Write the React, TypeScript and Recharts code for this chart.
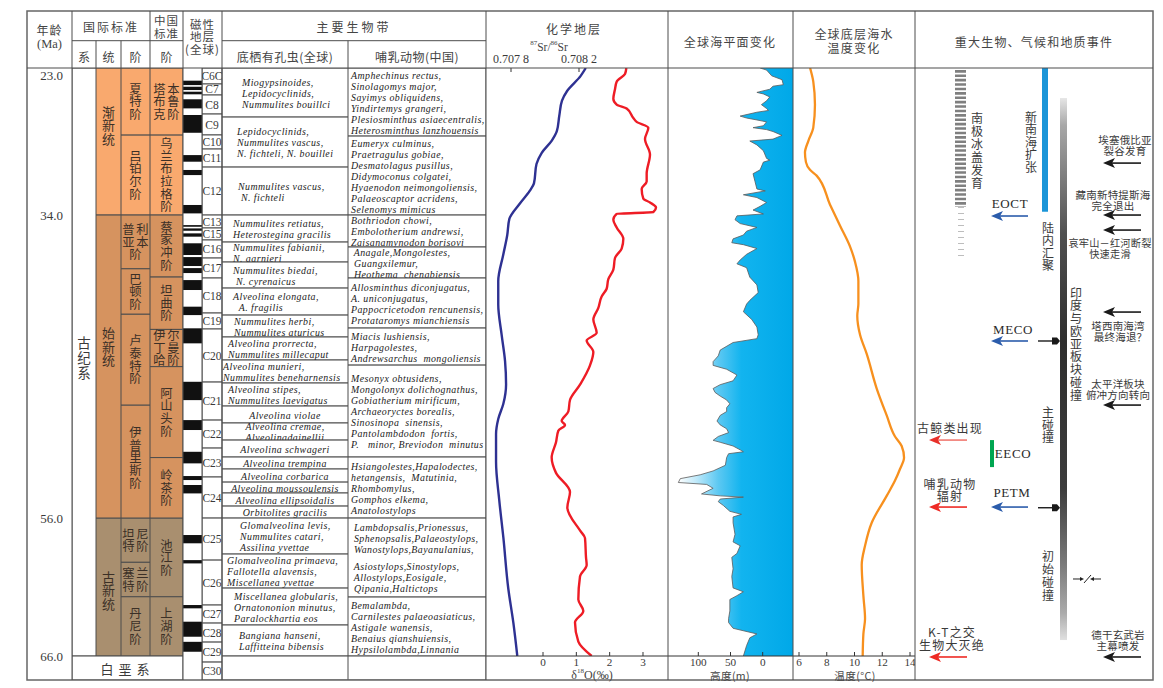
import React from 'react';
import { ComposedChart, Line, Area, XAxis, YAxis, ReferenceArea, Scatter } from 'recharts';

const F_CJK = '"Noto Sans CJK SC", "Noto Sans", sans-serif';
const F_SERIF = '"Liberation Serif", "DejaVu Serif", serif';
const INK = '#3a3a3a';
const LINE = '#4d4d4d';

const AGE_TOP = 23.33;
const AGE_BASE = 66;
const AGE_END = 67.74;
const PX_PER_MA = 13.78;
const BODY_TOP = 68;
const BODY_H = Math.round((AGE_END - AGE_TOP) * PX_PER_MA);
const PLOT_H = Math.round((AGE_BASE - AGE_TOP) * PX_PER_MA);

const COL = { age: 27, sys: 72, ser: 96, stg: 121, cst: 150, pol: 183, chr: 202, fora: 222, mam: 348, chem: 486, sea: 668, tmp: 793, evt: 915, end: 1153 };

const OLI = '#F9A96E';
const EOC = '#D6935F';
const PAL = '#A98F6F';

// ---------- ticks ----------
const AGE_TICKS = [23, 34, 56, 66];
const SR_TICKS = [0.7078, 0.7082];
const O18_TICKS = [0, 1, 2, 3];
const SEA_TICKS = [100, 50, 0];
const TEMP_TICKS = [6, 8, 10, 12, 14];

// ---------- stratigraphy ----------
const systemCells = [{ start: AGE_TOP, end: AGE_BASE, lines: ['古', '纪', '系'], dy: -4 }];
const cretCells = [{ start: AGE_BASE, end: AGE_END, lines: ['白垩系'] }];
const seriesCells = [
  { start: AGE_TOP, end: 34, lines: ['渐', '新', '统'], fill: OLI, dy: -16 },
  { start: 34, end: 56, lines: ['始', '新', '统'], fill: EOC, dy: -20 },
  { start: 56, end: 66, lines: ['古', '新', '统'], fill: PAL, dy: 3 },
];
const intlStages = [
  { start: AGE_TOP, end: 28.2, lines: ['夏', '特', '阶'], fill: OLI },
  { start: 28.2, end: 34, lines: ['吕', '铂', '尔', '阶'], fill: OLI },
  { start: 34, end: 37.9, lines: ['普利', '亚本', '阶'], fill: EOC },
  { start: 37.9, end: 41.2, lines: ['巴', '顿', '阶'], fill: EOC },
  { start: 41.2, end: 47.8, lines: ['卢', '泰', '特', '阶'], fill: EOC },
  { start: 47.8, end: 56, lines: ['伊', '普', '里', '斯', '阶'], fill: EOC, dy: -4 },
  { start: 56, end: 59.2, lines: ['坦尼', '特阶'], fill: PAL },
  { start: 59.2, end: 61.7, lines: ['塞兰', '特阶'], fill: PAL },
  { start: 61.7, end: 66, lines: ['丹', '尼', '阶'], fill: PAL },
];
const chinaStages = [
  { start: AGE_TOP, end: 28.2, lines: ['塔本', '布鲁', '克阶'], fill: OLI },
  { start: 28.2, end: 34, lines: ['乌', '兰', '布', '拉', '格', '阶'], fill: OLI },
  { start: 34, end: 38.5, lines: ['蔡', '家', '冲', '阶'], fill: EOC },
  { start: 38.5, end: 42.3, lines: ['坦', '曲', '阶'], fill: EOC },
  { start: 42.3, end: 45.0, lines: ['伊尔', '丁曼', '哈阶'], fill: EOC },
  { start: 45.0, end: 51.6, lines: ['阿', '山', '头', '阶'], fill: EOC },
  { start: 51.6, end: 56, lines: ['岭', '茶', '阶'], fill: EOC },
  { start: 56, end: 61.7, lines: ['池', '江', '阶'], fill: PAL },
  { start: 61.7, end: 66, lines: ['上', '湖', '阶'], fill: PAL },
];
const polarityNormal = [
  [24.25, 24.57], [24.69, 24.93], [25.05, 25.24], [25.6, 26.26], [26.74, 28.03], [29.65, 30.13],
  [30.73, 31.1], [33.27, 33.88], [34.73, 34.85], [34.97, 35.14], [35.33, 35.57], [36.05, 36.9],
  [37.05, 37.7], [37.85, 38.21], [38.72, 39.44], [40.65, 41.26], [42.22, 43.31], [46.1, 47.43],
  [48.88, 49.6], [51.18, 52.02], [52.94, 53.23], [53.59, 54.2], [57.22, 57.82], [59.04, 59.28],
  [62.3, 62.54], [63.51, 64.6], [64.97, 65.69],
];
const chronBounds = [AGE_TOP, 24.49, 25.29, 26.67, 28.19, 29.21, 30.52, 34.0, 34.94, 35.81, 37.12, 38.57, 41.11, 42.27, 46.12, 48.88, 50.91, 53.01, 55.99, 59.04, 62.30, 63.61, 64.99, 66.44, AGE_END];
const chronNames = ['C6C', 'C7', 'C8', 'C9', 'C10', 'C11', 'C12', 'C13', 'C15', 'C16', 'C17', 'C18', 'C19', 'C20', 'C21', 'C22', 'C23', 'C24', 'C25', 'C26', 'C27', 'C28', 'C29', 'C30'];

const foramCells = [
  { start: AGE_TOP, end: 26.89, ix: 20, lines: ['Miogypsinoides,', 'Lepidocyclinids,', 'Nummulites bouillci'] },
  { start: 26.89, end: 30.52, ix: 15, lines: ['Lepidocyclinids,', 'Nummulites vascus,', 'N. fichteli, N. bouillei'] },
  { start: 30.52, end: 34.0, ix: 16, lines: ['Nummulites vascus,', ' N. fichteli'] },
  { start: 34.0, end: 35.96, ix: 11, lines: ['Nummulites retiatus,', 'Heterostegina gracilis'] },
  { start: 35.96, end: 37.41, ix: 11, lines: ['Nummulites fabianii,', 'N. garnieri'] },
  { start: 37.41, end: 39.30, ix: 11, lines: ['Nummulites biedai,', ' N. cyrenaicus'] },
  { start: 39.30, end: 41.26, ix: 11, lines: ['Alveolina elongata,', '  A. fragilis'] },
  { start: 41.26, end: 42.85, ix: 12, lines: ['Nummulites herbi,', 'Nummulites aturicus'] },
  { start: 42.85, end: 44.52, ix: 6, lines: ['Alveolina prorrecta,', 'Nummulites millecaput'] },
  { start: 44.52, end: 46.19, ix: 1, lines: ['Alveolina munieri,', 'Nummulites beneharnensis'] },
  { start: 46.19, end: 47.86, ix: 6, lines: ['Alveolina stipes,', 'Nummulites laevigatus'] },
  { start: 47.86, end: 49.09, lines: ['Alveolina violae'] },
  { start: 49.09, end: 50.33, lines: ['Alveolina cremae,', 'Alveolinadainellii'] },
  { start: 50.33, end: 51.56, lines: ['Alveolina schwageri'] },
  { start: 51.56, end: 52.43, lines: ['Alveolina trempina'] },
  { start: 52.43, end: 53.38, lines: ['Alveolina corbarica'] },
  { start: 53.38, end: 54.17, lines: ['Alveolina moussoulensis'] },
  { start: 54.17, end: 55.12, lines: ['Alveolina ellipsoidalis'] },
  { start: 55.12, end: 55.99, lines: ['Orbitolites gracilis'] },
  { start: 55.99, end: 58.60, ix: 18, lines: ['Glomalveolina levis,', 'Nummulites catari,', 'Assilina yvettae'] },
  { start: 58.60, end: 61.07, ix: 5, lines: ['Glomalveolina primaeva,', 'Fallotella alavensis,', 'Miscellanea yvettae'] },
  { start: 61.07, end: 63.75, ix: 12, lines: ['Miscellanea globularis,', 'Ornatononion minutus,', 'Paralockhartia eos'] },
  { start: 63.75, end: 66.0, ix: 17, lines: ['Bangiana hanseni,', 'Laffitteina bibensis'] },
  { start: 66.0, end: AGE_END, lines: [] },
];
const mammalCells = [
  { start: AGE_TOP, end: 28.27, lines: ['Amphechinus rectus,', 'Sinolagomys major,', 'Sayimys obliquidens,', 'Yindirtemys grangeri,', 'Plesiosminthus asiaecentralis,', 'Heterosminthus lanzhouensis'] },
  { start: 28.27, end: 34.0, lines: ['Eumeryx culminus,', 'Praetragulus gobiae,', 'Desmatolagus pusillus,', 'Didymoconus colgatei,', 'Hyaenodon neimongoliensis,', 'Palaeoscaptor acridens,', 'Selenomys mimicus'] },
  { start: 34.0, end: 36.32, lines: ['Bothriodon chowi,', 'Embolotherium andrewsi,', 'Zaisanamynodon borisovi'] },
  { start: 36.32, end: 38.57, lines: [' Anagale,Mongolestes,', ' Guangxilemur,', ' Heothema  chengbiensis'] },
  { start: 38.57, end: 42.2, lines: ['Allosminthus diconjugatus,', 'A. uniconjugatus,', 'Pappocricetodon rencunensis,', 'Protataromys mianchiensis'] },
  { start: 42.2, end: 44.89, lines: ['Miacis lushiensis,', 'Harpagolestes,', 'Andrewsarchus  mongoliensis'] },
  { start: 44.89, end: 51.56, lines: ['Mesonyx obtusidens,', 'Mongolonyx dolichognathus,', 'Gobiatherium mirificum,', 'Archaeoryctes borealis,', 'Sinosinopa  sinensis,', 'Pantolambdodon  fortis,', 'P.   minor, Breviodon  minutus'] },
  { start: 51.56, end: 55.99, lines: ['Hsiangolestes,Hapalodectes,', 'hetangensis,  Matutinia,', 'Rhombomylus,', 'Gomphos elkema,', 'Anatolostylops'] },
  { start: 55.99, end: 61.72, lines: [' Lambdopsalis,Prionessus,', ' Sphenopsalis,Palaeostylops,', ' Wanostylops,Bayanulanius,', '', ' Asiostylops,Sinostylops,', ' Allostylops,Eosigale,', ' Qipania,Haltictops'] },
  { start: 61.72, end: 66.0, lines: ['Bemalambda,', 'Carnilestes palaeoasiaticus,', 'Astigale wanensis,', 'Benaius qianshuiensis,', 'Hypsilolambda,Linnania'] },
  { start: 66.0, end: AGE_END, lines: [] },
];

// ---------- curves ----------
const srData = [
  { age: 23.33, v: 0.70824 }, { age: 23.9, v: 0.70821 }, { age: 25.0, v: 0.70813 }, { age: 25.7, v: 0.7081 },
  { age: 26.8, v: 0.708084 }, { age: 27.9, v: 0.70807 }, { age: 28.6, v: 0.70804 }, { age: 29.5, v: 0.70798 },
  { age: 30.3, v: 0.70795 }, { age: 31.7, v: 0.707935 }, { age: 32.25, v: 0.70791 }, { age: 33.2, v: 0.70785 },
  { age: 34.3, v: 0.70779 }, { age: 35.45, v: 0.707778 }, { age: 36.85, v: 0.707755 }, { age: 38.8, v: 0.707725 },
  { age: 40.5, v: 0.707725 }, { age: 42.7, v: 0.707745 }, { age: 44.6, v: 0.707765 }, { age: 46.3, v: 0.707771 },
  { age: 47.7, v: 0.707755 }, { age: 48.8, v: 0.707725 }, { age: 49.9, v: 0.707712 }, { age: 51.9, v: 0.707712 },
  { age: 54.7, v: 0.707731 }, { age: 57.4, v: 0.707755 }, { age: 61.1, v: 0.707784 }, { age: 63.6, v: 0.707814 },
  { age: 66.0, v: 0.707837 },
];
const d18oData = [
  { age: 23.33, v: 2.5 }, { age: 23.76, v: 2.46 }, { age: 24.32, v: 2.21 }, { age: 24.87, v: 2.16 },
  { age: 25.57, v: 2.11 }, { age: 25.99, v: 2.21 }, { age: 26.27, v: 2.51 }, { age: 26.96, v: 2.71 },
  { age: 27.24, v: 2.81 }, { age: 27.66, v: 3.16 }, { age: 28.49, v: 3.06 }, { age: 29.61, v: 3.21 },
  { age: 31.0, v: 3.11 }, { age: 31.56, v: 3.11 }, { age: 32.11, v: 2.96 }, { age: 32.81, v: 3.01 },
  { age: 33.09, v: 3.21 }, { age: 33.45, v: 3.39 }, { age: 33.78, v: 3.31 }, { age: 33.92, v: 2.21 },
  { age: 34.34, v: 2.11 }, { age: 34.9, v: 2.21 }, { age: 35.73, v: 2.41 }, { age: 36.43, v: 2.36 },
  { age: 37.12, v: 2.16 }, { age: 37.96, v: 2.11 }, { age: 38.65, v: 1.96 }, { age: 39.35, v: 1.91 },
  { age: 39.91, v: 1.76 }, { age: 40.74, v: 1.66 }, { age: 41.58, v: 1.51 }, { age: 42.55, v: 1.61 },
  { age: 43.11, v: 1.31 }, { age: 43.94, v: 1.51 }, { age: 44.91, v: 1.41 }, { age: 46.31, v: 1.11 },
  { age: 47.42, v: 0.81 }, { age: 48.26, v: 0.76 }, { age: 48.95, v: 0.56 }, { age: 49.23, v: 0.66 },
  { age: 49.65, v: 0.46 }, { age: 50.49, v: 0.39 }, { age: 51.6, v: 0.26 }, { age: 52.71, v: 0.39 },
  { age: 54.1, v: 0.81 }, { age: 55.22, v: 0.73 }, { age: 56.89, v: 1.11 }, { age: 57.44, v: 1.26 },
  { age: 58.84, v: 1.29 }, { age: 59.39, v: 1.31 }, { age: 60.23, v: 1.11 }, { age: 61.9, v: 1.06 },
  { age: 62.73, v: 1.21 }, { age: 63.57, v: 0.96 }, { age: 64.96, v: 1.06 }, { age: 66.0, v: 1.46 },
];
const seaData = [
  { age: 23.33, v: 4 }, { age: 23.48, v: -6 }, { age: 23.9, v: -14 }, { age: 24.18, v: -30 }, { age: 24.54, v: -32 },
  { age: 24.65, v: -16 }, { age: 24.87, v: -11 }, { age: 25.1, v: 9 }, { age: 25.21, v: -1 }, { age: 25.43, v: -11 },
  { age: 25.71, v: -6 }, { age: 25.99, v: 2 }, { age: 26.27, v: -6 }, { age: 26.41, v: -9 }, { age: 26.54, v: 9 },
  { age: 26.82, v: 35 }, { age: 26.96, v: 25 }, { age: 27.1, v: 9 }, { age: 27.24, v: -6 }, { age: 27.52, v: -1 },
  { age: 27.66, v: 15 }, { age: 27.8, v: -6 }, { age: 27.94, v: -16 }, { age: 28.22, v: -30 }, { age: 28.49, v: -16 },
  { age: 28.63, v: 20 }, { age: 28.91, v: 9 }, { age: 29.33, v: -1 }, { age: 29.89, v: -6 }, { age: 30.02, v: -11 },
  { age: 30.16, v: -1 }, { age: 30.72, v: 4 }, { age: 31.0, v: 15 }, { age: 31.56, v: 12 }, { age: 32.11, v: 9 },
  { age: 32.25, v: -4 }, { age: 32.53, v: 30 }, { age: 32.73, v: 9 }, { age: 33.09, v: -6 }, { age: 33.37, v: 4 },
  { age: 33.64, v: 15 }, { age: 33.92, v: -1 }, { age: 34.06, v: 40 }, { age: 34.34, v: 43 }, { age: 34.62, v: 35 },
  { age: 34.9, v: 9 }, { age: 35.17, v: 25 }, { age: 35.45, v: 30 }, { age: 35.73, v: 46 }, { age: 36.01, v: 48 },
  { age: 36.15, v: 30 }, { age: 36.43, v: 9 }, { age: 36.85, v: 25 }, { age: 37.26, v: 35 }, { age: 37.54, v: 40 },
  { age: 37.82, v: 25 }, { age: 38.51, v: 20 }, { age: 39.07, v: 9 }, { age: 39.63, v: 7 }, { age: 40.19, v: 20 },
  { age: 40.46, v: 25 }, { age: 41.02, v: 30 }, { age: 41.58, v: 17 }, { age: 42.13, v: 9 }, { age: 42.69, v: 7 },
  { age: 42.97, v: 9 }, { age: 43.25, v: 46 }, { age: 43.8, v: 66 }, { age: 44.22, v: 69 }, { age: 44.64, v: 77 },
  { age: 44.91, v: 77 }, { age: 45.19, v: 56 }, { age: 45.61, v: 40 }, { age: 46.03, v: 46 }, { age: 46.31, v: 66 },
  { age: 46.59, v: 77 }, { age: 46.87, v: 74 }, { age: 47.14, v: 66 }, { age: 47.42, v: 56 }, { age: 47.7, v: 51 },
  { age: 47.98, v: 56 }, { age: 48.26, v: 56 }, { age: 48.54, v: 66 }, { age: 48.95, v: 71 }, { age: 49.23, v: 66 },
  { age: 49.51, v: 56 }, { age: 49.79, v: 53 }, { age: 50.07, v: 69 }, { age: 50.35, v: 77 }, { age: 50.49, v: 66 },
  { age: 50.76, v: 46 }, { age: 51.04, v: 35 }, { age: 51.18, v: 30 }, { age: 51.32, v: 53 }, { age: 51.6, v: 56 },
  { age: 52.16, v: 58 }, { age: 52.57, v: 77 }, { age: 52.85, v: 97 }, { age: 53.13, v: 128 }, { age: 53.41, v: 131 },
  { age: 53.55, v: 87 }, { age: 53.83, v: 77 }, { age: 54.24, v: 95 }, { age: 54.38, v: 66 }, { age: 54.47, v: 30 },
  { age: 54.61, v: 66 }, { age: 54.8, v: 69 }, { age: 55.08, v: 61 }, { age: 55.5, v: 51 }, { age: 55.72, v: 33 },
  { age: 55.91, v: 46 }, { age: 56.33, v: 46 }, { age: 57.17, v: 43 }, { age: 57.72, v: 46 }, { age: 58.0, v: 35 },
  { age: 58.56, v: 40 }, { age: 58.84, v: 48 }, { age: 59.67, v: 46 }, { age: 60.23, v: 48 }, { age: 61.06, v: 46 },
  { age: 61.34, v: 30 }, { age: 61.62, v: 40 }, { age: 61.9, v: 51 }, { age: 62.73, v: 51 }, { age: 63.29, v: 53 },
  { age: 63.57, v: 53 }, { age: 63.99, v: 46 }, { age: 64.4, v: 9 }, { age: 64.68, v: 20 }, { age: 65.24, v: 25 },
  { age: 66.0, v: 30 },
];
const tempData = [
  { age: 23.33, v: 6.8 }, { age: 24.32, v: 7.03 }, { age: 25.99, v: 7.15 }, { age: 27.66, v: 7.03 },
  { age: 28.63, v: 6.67 }, { age: 29.47, v: 6.43 }, { age: 30.16, v: 6.5 }, { age: 30.72, v: 6.79 },
  { age: 31.14, v: 7.27 }, { age: 33.23, v: 8.23 }, { age: 34.76, v: 8.95 }, { age: 36.29, v: 9.68 },
  { age: 37.4, v: 10.04 }, { age: 38.79, v: 10.28 }, { age: 40.46, v: 10.28 }, { age: 41.3, v: 10.2 },
  { age: 42.69, v: 10.4 }, { age: 44.08, v: 10.88 }, { age: 46.59, v: 11.6 }, { age: 48.54, v: 12.32 },
  { age: 50.07, v: 12.92 }, { age: 50.76, v: 13.4 }, { age: 51.6, v: 13.57 }, { age: 52.43, v: 13.28 },
  { age: 53.27, v: 12.92 }, { age: 54.38, v: 12.32 }, { age: 56.33, v: 11.24 }, { age: 58.0, v: 10.76 },
  { age: 59.39, v: 10.52 }, { age: 61.62, v: 10.64 }, { age: 63.29, v: 10.76 }, { age: 64.4, v: 10.64 },
  { age: 66.0, v: 10.59 },
];

// ---------- events ----------
const eventBars = [
  { kind: 'dash', x1: 40, x2: 51, start: 23.48, end: 33.42 },
  { kind: 'dashWeak', x1: 43, x2: 49, start: 33.42, end: 37.12 },
  { kind: 'solid', x1: 127, x2: 133, start: AGE_TOP, end: 33.76, fill: '#1B95D8' },
  { kind: 'grad', x1: 145, x2: 152, start: 25.51, end: 64.84 },
  { kind: 'solid', x1: 75, x2: 79, start: 50.33, end: 52.29, fill: '#00A651' },
];
const eventMarks = [
  { kind: 'vtext', x: 62, age: 29.32, text: '南极冰盖发育', gap: 13 },
  { kind: 'vtext', x: 116, age: 28.7, text: '新南海扩张', gap: 12.5 },
  { kind: 'vtext', x: 133, age: 36.32, text: '陆内汇聚', gap: 12.5 },
  { kind: 'vtext', x: 161, age: 43.36, text: '印度与欧亚板块碰撞', gap: 12.75 },
  { kind: 'vtext', x: 133, age: 49.24, text: '主碰撞', gap: 12.5 },
  { kind: 'vtext', x: 133, age: 60.2, text: '初始碰撞', gap: 13 },
  { kind: 'code', x: 95, age: 33.13, text: 'EOCT' },
  { kind: 'code', x: 98, age: 42.27, text: 'MECO' },
  { kind: 'code', x: 98, age: 51.34, text: 'EECO' },
  { kind: 'code', x: 97, age: 54.17, text: 'PETM' },
  { kind: 'arrow', x: 76, age: 34.07, len: 37, color: '#2B5CAB' },
  { kind: 'arrow', x: 76, age: 43.14, len: 37, color: '#2B5CAB' },
  { kind: 'arrow', x: 76, age: 55.19, len: 37, color: '#2B5CAB' },
  { kind: 'arrow', x: 14, age: 50.33, len: 38, color: '#E8302A', lineColor: '#F07A72' },
  { kind: 'arrow', x: 14, age: 55.19, len: 38, color: '#EE2A24' },
  { kind: 'arrow', x: 14, age: 66.07, len: 38, color: '#EE2A24' },
  { kind: 'push', x: 123, age: 43.14 },
  { kind: 'push', x: 123, age: 55.24 },
  { kind: 'arrow', x: 188, age: 30.23, len: 38, color: '#1a1a1a' },
  { kind: 'arrow', x: 188, age: 34.0, len: 38, color: '#1a1a1a' },
  { kind: 'arrow', x: 188, age: 35.09, len: 38, color: '#1a1a1a' },
  { kind: 'arrow', x: 188, age: 41.04, len: 38, color: '#1a1a1a' },
  { kind: 'arrow', x: 188, age: 47.79, len: 38, color: '#1a1a1a' },
  { kind: 'arrow', x: 188, age: 66.07, len: 38, color: '#1a1a1a' },
  { kind: 'htext', x: 210, age: 28.9, lines: ['埃塞俄比亚', '裂谷发育'], size: 10.5, lh: 11 },
  { kind: 'htext', x: 198, age: 32.87, lines: ['藏南新特提斯海', '完全退出'], size: 10.5, lh: 11 },
  { kind: 'htext', x: 195, age: 36.35, lines: ['哀牢山－红河断裂', '快速走滑'], size: 10.2, lh: 11 },
  { kind: 'htext', x: 203, age: 42.38, lines: ['塔西南海湾', '  最终海退？'], size: 10.5, lh: 11.5 },
  { kind: 'htext', x: 203, age: 46.6, lines: ['太平洋板块', '俯冲方向转向'], size: 10.5, lh: 11 },
  { kind: 'htext', x: 203, age: 64.8, lines: ['德干玄武岩', '主幕喷发'], size: 10.5, lh: 11 },
  { kind: 'htext', x: 35, age: 49.38, lines: ['古鲸类出现'], size: 12, lh: 12.5 },
  { kind: 'htext', x: 35, age: 53.88, lines: ['哺乳动物', '辐射'], size: 12, lh: 12.5 },
  { kind: 'htext', x: 37, age: 64.66, lines: ['K-T之交', '生物大灭绝'], size: 12, lh: 12.5 },
  { kind: 'fault', x: 172, age: 60.41 },
];

// ---------- domains derived from the reference layout ----------
const SR_DOMAIN = [0.7078 - 25 / 170000, 0.7078 + 157 / 170000];
const O18_DOMAIN = [-57 / 33.33, 3 + 25 / 33.33];
const SEA_DOMAIN = [-47.05, 147.05];
const TEMP_DOMAIN = [6 - 6 / 13.875, 14 + 5 / 13.875];

type Cell = { start: number; end: number; lines?: string[]; fill?: string; dy?: number; ix?: number };
type CellStyle = {
  fill: string; stroke: string; font: string; size: number; lh: number; color: string;
  italic?: boolean; align?: 'middle' | 'start'; pad?: number; ls?: number; vertical?: boolean;
};

// one <text> with one <tspan> per line
function MultiLine({ x, y, lines, lh, anchor, size, font, color, italic, ls }: any) {
  const steps = lines.map((t: string) => (t === '' ? 0.5 : 1));
  const total = steps.reduce((a: number, b: number) => a + b, 0);
  let acc = 0;
  const spans: any[] = [];
  lines.forEach((t: string, i: number) => {
    const off = acc + steps[i] / 2;
    acc += steps[i];
    if (t !== '') spans.push({ t, y: y + (off - total / 2) * lh });
  });
  if (!spans.length) return null;
  return (
    <text x={x} y={spans[0].y} textAnchor={anchor} dominantBaseline="central" fontSize={size} fontFamily={font}
      fontStyle={italic ? 'italic' : 'normal'} fill={color} letterSpacing={ls ?? 0} style={{ whiteSpace: 'pre' }}>
      {spans.map((s, i) => (
        <tspan key={i} x={x} y={s.y} dominantBaseline="central">{s.t}</tspan>
      ))}
    </text>
  );
}

// vertical (top-to-bottom) CJK text centred on (x, y)
function VText({ x, y, text, gap, size, color }: any) {
  const ls = Math.max(0, gap - size);
  return (
    <text x={x} y={y + ls / 2} textAnchor="middle" fontSize={size} fontFamily={F_CJK} fill={color}
      letterSpacing={ls} style={{ writingMode: 'vertical-rl' as any }}>{text}</text>
  );
}

function VerticalLabel({ cx, cy, lines, size, gap, color }: any) {
  const n = lines.length;
  const rowY = (i: number) => cy + (i - (n - 1) / 2) * gap;
  const out: any[] = [];
  let i = 0;
  while (i < n) {
    const two = Array.from(lines[i] as string).length === 2;
    let j = i;
    while (j < n && (Array.from(lines[j] as string).length === 2) === two) j++;
    const rows = lines.slice(i, j);
    const midY = (rowY(i) + rowY(j - 1)) / 2;
    if (two) {
      out.push(<VText key={`l${i}`} x={cx - 7} y={midY} text={rows.map((r: string) => Array.from(r)[0]).join('')} gap={gap} size={size} color={color} />);
      out.push(<VText key={`r${i}`} x={cx + 7} y={midY} text={rows.map((r: string) => Array.from(r)[1]).join('')} gap={gap} size={size} color={color} />);
    } else {
      out.push(<VText key={`c${i}`} x={cx} y={midY} text={rows.join('')} gap={gap} size={size} color={color} />);
    }
    i = j;
  }
  return <g>{out}</g>;
}

function cellShape(c: Cell, s: CellStyle) {
  return (p: any) => {
    const { x, y, width, height } = p;
    const start = c.ix != null || s.align === 'start';
    const tx = c.ix != null ? x + c.ix : s.align === 'start' ? x + (s.pad ?? 3) : x + width / 2;
    const cy = y + height / 2 + (c.dy ?? 0);
    return (
      <g>
        <rect x={x} y={y} width={width} height={height} fill={c.fill ?? s.fill} stroke={s.stroke} strokeWidth={1} />
        {s.vertical ? (
          <VerticalLabel cx={tx} cy={cy} lines={c.lines ?? []} size={s.size} gap={s.lh} color={s.color} />
        ) : (
          <MultiLine x={tx} y={cy} lines={c.lines ?? []} lh={s.lh} anchor={start ? 'start' : 'middle'}
            size={s.size} font={s.font} color={s.color} italic={s.italic} ls={s.ls} />
        )}
      </g>
    );
  };
}

function Pos({ left, top, children }: any) {
  return <div style={{ position: 'absolute', left, top }}>{children}</div>;
}

const M0 = { top: 0, right: 0, bottom: 0, left: 0 };
const noShape = () => <g />;

function IntervalColumn({ left, width, cells, st }: { left: number; width: number; cells: Cell[]; st: CellStyle }) {
  const anchors = cells.map((c) => ({ x: 0.5, age: (c.start + c.end) / 2 }));
  return (
    <Pos left={left} top={BODY_TOP}>
      <ComposedChart width={width} height={BODY_H} margin={M0}>
        <XAxis type="number" dataKey="x" domain={[0, 1]} hide allowDataOverflow />
        <YAxis type="number" dataKey="age" domain={[AGE_TOP, AGE_END]} reversed hide allowDataOverflow />
        {cells.map((c, i) => (
          <ReferenceArea key={i} x1={0} x2={1} y1={c.start} y2={c.end} ifOverflow="visible" shape={cellShape(c, st)} />
        ))}
        <Scatter data={anchors} shape={noShape} isAnimationActive={false} />
      </ComposedChart>
    </Pos>
  );
}

const cjkStage: CellStyle = { fill: '#fff', stroke: LINE, font: F_CJK, size: 12.3, lh: 12.6, color: '#3b3027', vertical: true };

function AgeTick(p: any) {
  const { x, y, payload } = p;
  const yy = Math.max(y, 7);
  const v = payload.value;
  return (
    <g>
      <text x={x - 9} y={yy} textAnchor="end" dominantBaseline="central" fontSize={13} fontFamily={F_SERIF} fill={INK}>{v.toFixed(1)}</text>
      {(v === 34 || v === 56) && <line x1={x} x2={x + 3} y1={y} y2={y} stroke={LINE} strokeWidth={1} />}
    </g>
  );
}

function AgeAxis() {
  const w = COL.sys - COL.age;
  return (
    <Pos left={COL.age} top={BODY_TOP}>
      <ComposedChart width={w + 6} height={BODY_H} margin={M0}>
        <XAxis type="number" domain={[0, 1]} hide allowDataOverflow />
        <YAxis type="number" domain={[AGE_TOP, AGE_END]} reversed allowDataOverflow ticks={AGE_TICKS} interval={0}
          width={w} axisLine={false} tickLine={false} tickSize={0} tickMargin={0} tick={(p: any) => <AgeTick {...p} />} />
      </ComposedChart>
    </Pos>
  );
}

function TopSrTick(p: any) {
  const { x, y, payload } = p;
  const label = payload.value < 0.708 ? '0.707 8' : '0.708 2';
  return (
    <g>
      <line x1={x} x2={x} y1={y} y2={y + 4} stroke="#333" strokeWidth={1} />
      <text x={x} y={y - 9} textAnchor="middle" dominantBaseline="central" fontSize={12} fontFamily={F_SERIF} fill={INK}>{label}</text>
    </g>
  );
}
function BottomTick(p: any) {
  const { x, y, payload } = p;
  return (
    <g>
      <line x1={x} x2={x} y1={y} y2={y - 4} stroke="#333" strokeWidth={1} />
      <text x={x} y={y + 5.8} textAnchor="middle" dominantBaseline="central" fontSize={11.2} fontFamily={F_SERIF} fill={INK}>{payload.value}</text>
    </g>
  );
}

function ChemChart() {
  const w = COL.sea - COL.chem;
  return (
    <Pos left={COL.chem} top={BODY_TOP - 28}>
      <ComposedChart layout="vertical" width={w} height={28 + PLOT_H + 24} margin={M0}>
        <YAxis type="number" dataKey="age" domain={[AGE_TOP, AGE_BASE]} hide allowDataOverflow />
        <XAxis xAxisId="sr" type="number" orientation="top" height={28} domain={SR_DOMAIN} ticks={SR_TICKS} interval={0}
          allowDataOverflow axisLine={false} tickLine={false} tickSize={0} tickMargin={0} tick={(p: any) => <TopSrTick {...p} />} />
        <XAxis xAxisId="o" type="number" orientation="bottom" height={24} domain={O18_DOMAIN} ticks={O18_TICKS} interval={0}
          allowDataOverflow axisLine={{ stroke: '#333' }} tickLine={false} tickSize={0} tickMargin={0} tick={(p: any) => <BottomTick {...p} />} />
        <Line xAxisId="sr" data={srData} dataKey="v" type="monotone" stroke="#2E3192" strokeWidth={2.4} dot={false} isAnimationActive={false} />
        <Line xAxisId="o" data={d18oData} dataKey="v" type="monotone" stroke="#EE1C25" strokeWidth={2.4} dot={false} isAnimationActive={false} />
      </ComposedChart>
    </Pos>
  );
}

function SeaChart() {
  const w = COL.tmp - COL.sea;
  return (
    <Pos left={COL.sea} top={BODY_TOP}>
      <ComposedChart layout="vertical" width={w} height={PLOT_H + 24} margin={M0}>
        <defs>
          <linearGradient id="seaFill" x1="0" y1="0" x2="1" y2="0">
            <stop offset="0" stopColor="#ffffff" />
            <stop offset="0.15" stopColor="#c2eafa" />
            <stop offset="0.35" stopColor="#5cc8f2" />
            <stop offset="0.55" stopColor="#12b4ef" />
            <stop offset="1" stopColor="#00a8e8" />
          </linearGradient>
        </defs>
        <YAxis type="number" dataKey="age" domain={[AGE_TOP, AGE_BASE]} hide allowDataOverflow />
        <XAxis type="number" reversed height={24} domain={SEA_DOMAIN} ticks={SEA_TICKS} interval={0} allowDataOverflow
          axisLine={{ stroke: '#333' }} tickLine={false} tickSize={0} tickMargin={0} tick={(p: any) => <BottomTick {...p} />} />
        <Area data={seaData} dataKey="v" type="linear" baseValue={SEA_DOMAIN[0]} fill="url(#seaFill)" fillOpacity={1}
          stroke="#5a5a5a" strokeWidth={0.8} dot={false} activeDot={false} isAnimationActive={false} />
      </ComposedChart>
    </Pos>
  );
}

function TempChart() {
  const w = COL.evt - COL.tmp;
  return (
    <Pos left={COL.tmp} top={BODY_TOP}>
      <ComposedChart layout="vertical" width={w} height={PLOT_H + 24} margin={M0}>
        <YAxis type="number" dataKey="age" domain={[AGE_TOP, AGE_BASE]} hide allowDataOverflow />
        <XAxis type="number" height={24} domain={TEMP_DOMAIN} ticks={TEMP_TICKS} interval={0} allowDataOverflow
          axisLine={{ stroke: '#333' }} tickLine={false} tickSize={0} tickMargin={0} tick={(p: any) => <BottomTick {...p} />} />
        <Line data={tempData} dataKey="v" type="monotone" stroke="#F7901E" strokeWidth={2.3} dot={false} isAnimationActive={false} />
      </ComposedChart>
    </Pos>
  );
}

function barShape(b: any) {
  return (p: any) => {
    const { x, y, width, height } = p;
    if (b.kind === 'dash')
      return <line x1={x + width / 2} x2={x + width / 2} y1={y} y2={y + height} stroke="#7f7f7f" strokeWidth={width} strokeDasharray="2.6 1.8" />;
    if (b.kind === 'dashWeak')
      return <line x1={x + width / 2} x2={x + width / 2} y1={y} y2={y + height} stroke="#bdbdbd" strokeWidth={width} strokeDasharray="1 5" />;
    if (b.kind === 'grad') return <rect x={x} y={y} width={width} height={height} fill="url(#collGrad)" />;
    return <rect x={x} y={y} width={width} height={height} fill={b.fill} />;
  };
}

function eventShape(p: any) {
  const { cx, cy, payload: e } = p;
  if (cx == null || cy == null || !e) return <g />;
  if (e.kind === 'vtext') {
    return <VText x={cx} y={cy} text={e.text} gap={e.gap} size={12} color={INK} />;
  }
  if (e.kind === 'htext') {
    return <MultiLine x={cx} y={cy} lines={e.lines} lh={e.lh} anchor="middle" size={e.size} font={F_CJK} color={INK} ls={e.size > 11.5 ? 1.2 : 0.2} />;
  }
  if (e.kind === 'code') {
    return <text x={cx} y={cy} textAnchor="middle" dominantBaseline="central" fontSize={13} fontFamily={F_SERIF} fill="#2a2a2a" letterSpacing={0.6}>{e.text}</text>;
  }
  if (e.kind === 'arrow') {
    const lc = e.lineColor ?? e.color;
    return (
      <g>
        <line x1={cx + 8} y1={cy} x2={cx + e.len} y2={cy} stroke={lc} strokeWidth={1.6} />
        <polygon points={`${cx},${cy} ${cx + 12},${cy - 5} ${cx + 9},${cy} ${cx + 12},${cy + 5}`} fill={e.color} />
      </g>
    );
  }
  if (e.kind === 'push') {
    return (
      <g>
        <line x1={cx} y1={cy} x2={cx + 15} y2={cy} stroke="#1a1a1a" strokeWidth={1.4} />
        <polygon points={`${cx + 14},${cy - 3.5} ${cx + 19},${cy - 3.5} ${cx + 22},${cy} ${cx + 19},${cy + 3.5} ${cx + 14},${cy + 3.5}`} fill="#1a1a1a" />
      </g>
    );
  }
  if (e.kind === 'fault') {
    return (
      <g stroke="#222" strokeWidth={1} fill="#222">
        <line x1={cx - 14} y1={cy} x2={cx - 6} y2={cy} />
        <polygon points={`${cx - 3},${cy} ${cx - 7},${cy - 2} ${cx - 7},${cy + 2}`} stroke="none" />
        <line x1={cx - 3} y1={cy + 4} x2={cx + 4} y2={cy - 4} />
        <line x1={cx + 14} y1={cy} x2={cx + 6} y2={cy} />
        <polygon points={`${cx + 3},${cy} ${cx + 7},${cy - 2} ${cx + 7},${cy + 2}`} stroke="none" />
      </g>
    );
  }
  return <g />;
}

function EventsChart() {
  const w = COL.end - COL.evt;
  return (
    <Pos left={COL.evt} top={BODY_TOP}>
      <ComposedChart width={w} height={BODY_H} margin={M0}>
        <defs>
          <linearGradient id="collGrad" x1="0" y1="0" x2="0" y2="1">
            <stop offset="0" stopColor="#e6e6e6" />
            <stop offset="0.05" stopColor="#a8a8a8" />
            <stop offset="0.25" stopColor="#505050" />
            <stop offset="0.45" stopColor="#2e2e2e" />
            <stop offset="0.72" stopColor="#3c3c3c" />
            <stop offset="0.86" stopColor="#7a7a7a" />
            <stop offset="0.95" stopColor="#ababab" />
            <stop offset="1" stopColor="#e0e0e0" />
          </linearGradient>
        </defs>
        <XAxis type="number" dataKey="x" domain={[0, w]} hide allowDataOverflow />
        <YAxis type="number" dataKey="age" domain={[AGE_TOP, AGE_END]} reversed hide allowDataOverflow />
        {eventBars.map((b, i) => (
          <ReferenceArea key={i} x1={b.x1} x2={b.x2} y1={b.start} y2={b.end} ifOverflow="visible" shape={barShape(b)} />
        ))}
        <Scatter data={eventMarks} shape={eventShape} isAnimationActive={false} />
      </ComposedChart>
    </Pos>
  );
}

const headerTexts: any[] = [
  { x: 49.5, y: 29, t: '年龄', ls: 1 },
  { x: 49.5, y: 44, t: '(Ma)', serif: true, size: 12.5 },
  { x: 111, y: 26, t: '国际标准', ls: 2 },
  { x: 166.5, y: 26.5, lines: ['中国', '标准'], lh: 13, ls: 1, size: 11.5 },
  { x: 84, y: 56, t: '系' },
  { x: 108.5, y: 56, t: '统' },
  { x: 135.5, y: 56, t: '阶' },
  { x: 166.5, y: 56, t: '阶' },
  { x: 202.5, y: 36, lines: ['磁性', '地层', '(全球)'], lh: 12.5, ls: 1, size: 11.5 },
  { x: 354, y: 26, t: '主要生物带', ls: 3 },
  { x: 285, y: 56, t: '底栖有孔虫(全球)', ls: 0.5 },
  { x: 417, y: 56, t: '哺乳动物(中国)', ls: 0.5 },
  { x: 574, y: 28, t: '化学地层', ls: 2 },
  { x: 730, y: 41, t: '全球海平面变化', ls: 1.2 },
  { x: 854, y: 40, lines: ['全球底层海水', '温度变化'], lh: 14, ls: 1.2 },
  { x: 1034, y: 41, t: '重大生物、气候和地质事件', ls: 1.2 },
];

function Frame() {
  const T = 11, H1 = 40.7, H2 = 68, B = 680, L = COL.age, R = COL.end;
  const fullV = [COL.sys, COL.pol, COL.fora, COL.chem, COL.sea, COL.tmp, COL.evt];
  return (
    <svg width={1163} height={688} style={{ position: 'absolute', left: 0, top: 0, pointerEvents: 'none' }}>
      <rect x={L} y={T} width={R - L} height={B - T} fill="none" stroke="#666" strokeWidth={1.5} />
      <line x1={L} x2={R} y1={H2} y2={H2} stroke={LINE} strokeWidth={1.2} />
      <line x1={COL.sys} x2={COL.pol} y1={H1} y2={H1} stroke={LINE} />
      <line x1={COL.fora} x2={COL.chem} y1={H1} y2={H1} stroke={LINE} />
      {fullV.map((x) => <line key={x} x1={x} x2={x} y1={T} y2={B} stroke={LINE} />)}
      <line x1={COL.cst} x2={COL.cst} y1={T} y2={H2} stroke={LINE} />
      {[COL.ser, COL.stg, COL.mam].map((x) => <line key={x} x1={x} x2={x} y1={H1} y2={H2} stroke={LINE} />)}
      <line x1={COL.chr} x2={COL.chr} y1={H2} y2={B} stroke={LINE} />
      {headerTexts.map((h, i) => h.lines ? (
        <MultiLine key={i} x={h.x} y={h.y} lines={h.lines} lh={h.lh} anchor="middle" size={h.size ?? 12} font={F_CJK} color="#444" ls={h.ls} />
      ) : (
        <text key={i} x={h.x} y={h.y} textAnchor="middle" dominantBaseline="central" fontSize={h.size ?? 12}
          fontFamily={h.serif ? F_SERIF : F_CJK} fill="#444" letterSpacing={h.ls ?? 0}>{h.t}</text>
      ))}
      <text x={549} y={47} textAnchor="middle" dominantBaseline="central" fontSize={11.5} fontFamily={F_SERIF} fill="#444">
        <tspan fontSize={7} dy={-4}>87</tspan><tspan dy={4}>Sr/</tspan><tspan fontSize={7} dy={-4}>86</tspan><tspan dy={4}>Sr</tspan>
      </text>
      <text x={592} y={675} textAnchor="middle" dominantBaseline="central" fontSize={12} fontFamily={F_SERIF} fill="#444">
        δ<tspan fontSize={7} dy={-4}>18</tspan><tspan dy={4}>O(‰)</tspan>
      </text>
      <text x={730} y={675.6} textAnchor="middle" dominantBaseline="central" fontSize={10.6} fontFamily={F_CJK} fill="#444" letterSpacing={0.4}>高度(m)</text>
      <text x={855} y={675.6} textAnchor="middle" dominantBaseline="central" fontSize={10.6} fontFamily={F_CJK} fill="#444" letterSpacing={0.4}>温度(°C)</text>
    </svg>
  );
}

export default function App() {
  const chronCells = chronNames.map((n, i) => ({ start: chronBounds[i], end: chronBounds[i + 1], lines: [n] }));
  const polCells: Cell[] = [{ start: AGE_TOP, end: AGE_END }, ...polarityNormal.map(([a, b]) => ({ start: a, end: b, fill: '#111' }))];
  const latin = { fill: '#fff', stroke: LINE, font: F_SERIF, size: 9.9, lh: 11, color: '#222', italic: true, ls: 0.45 };
  return (
    <div style={{ position: 'absolute', left: 0, top: 0, width: 1163, height: 688, background: '#fff', overflow: 'hidden' }}>
      <AgeAxis />
      <IntervalColumn left={COL.sys} width={COL.ser - COL.sys} cells={systemCells} st={{ ...cjkStage, size: 13.5, lh: 15, color: INK }} />
      <IntervalColumn left={COL.ser} width={COL.stg - COL.ser} cells={seriesCells} st={{ ...cjkStage, size: 13, lh: 13.5 }} />
      <IntervalColumn left={COL.stg} width={COL.cst - COL.stg} cells={intlStages} st={cjkStage} />
      <IntervalColumn left={COL.cst} width={COL.pol - COL.cst} cells={chinaStages} st={cjkStage} />
      <IntervalColumn left={COL.sys} width={COL.pol - COL.sys} cells={cretCells} st={{ ...cjkStage, vertical: false, size: 13, ls: 5, color: INK }} />
      <IntervalColumn left={COL.pol} width={COL.chr - COL.pol} cells={polCells} st={{ ...cjkStage, stroke: 'none' }} />
      <IntervalColumn left={COL.chr} width={COL.fora - COL.chr} cells={chronCells}
        st={{ fill: '#fff', stroke: LINE, font: F_SERIF, size: 11.5, lh: 12, color: INK }} />
      <IntervalColumn left={COL.fora} width={COL.mam - COL.fora} cells={foramCells} st={latin} />
      <IntervalColumn left={COL.mam} width={COL.chem - COL.mam} cells={mammalCells} st={{ ...latin, align: 'start', pad: 3 }} />
      <ChemChart />
      <SeaChart />
      <TempChart />
      <EventsChart />
      <Frame />
    </div>
  );
}
